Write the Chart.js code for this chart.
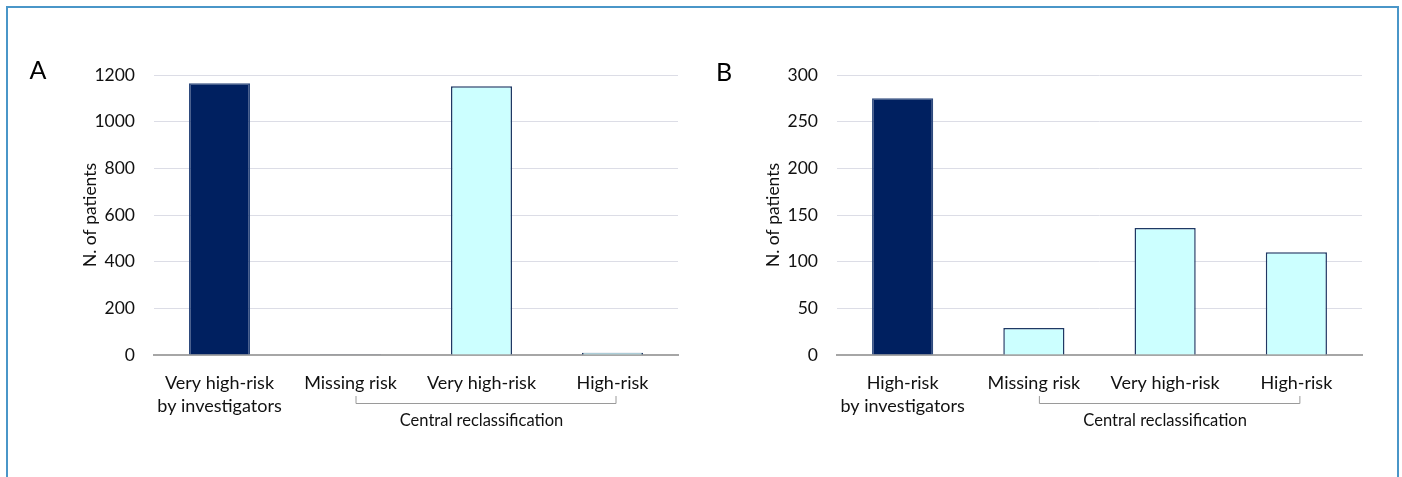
<!DOCTYPE html>
<html>
<head>
<meta charset="utf-8">
<script src="https://cdn.jsdelivr.net/npm/chart.js@4"></script>
<style>
  html, body { margin: 0; padding: 0; background: #ffffff; }
  #wrap { position: relative; width: 1402px; height: 477px; overflow: hidden; }
  #frame { position: absolute; left: 6px; top: 6px; width: 1389px; height: 500px;
           border-left: 2px solid #4A96C8; border-top: 2px solid #4A96C8; border-right: 2px solid #4A96C8; }
  canvas { position: absolute; left: 0; top: 0; }
</style>
</head>
<body>
<div id="wrap">
  <div id="frame"></div>
  <canvas id="chartA" width="1402" height="477"></canvas>
  <canvas id="chartB" width="1402" height="477"></canvas>
</div>
<script>
// Panel A: patients classified very high-risk by investigators
const categoriesA = [['Very high-risk', 'by investigators'], 'Missing risk', 'Very high-risk', 'High-risk'];
const valuesA = [1165, 3, 1152, 10];
const yMaxA = 1200;
const yStepA = 200;

// Panel B: patients classified high-risk by investigators
const categoriesB = [['High-risk', 'by investigators'], 'Missing risk', 'Very high-risk', 'High-risk'];
const valuesB = [275, 29, 136, 110];
const yMaxB = 300;
const yStepB = 50;

const groupLabel = 'Central reclassification';
const axisTitle = 'N. of patients';

const FONT = 'Lato';
const TEXT = '#111111';
const barFill = ['#002060', '#CCFFFF', '#CCFFFF', '#CCFFFF'];
const barEdge = ['#2E4A7D', '#1F3864', '#1F3864', '#1F3864'];

// Panel letter plus the bracket grouping the three reclassification bars
const annotations = {
  id: 'annotations',
  afterDatasetsDraw(chart, args, opts) {
    const ctx = chart.ctx;
    const x = chart.scales.x;
    const base = chart.chartArea.bottom;
    ctx.save();
    // panel letter
    ctx.fillStyle = '#000';
    ctx.font = '25px ' + FONT;
    ctx.textAlign = 'center';
    ctx.textBaseline = 'middle';
    ctx.fillText(opts.letter, opts.letterX, opts.letterY);
    // bracket under categories 1..3
    const x1 = x.getPixelForValue(1) + 5;
    const x2 = x.getPixelForValue(3) + 3;
    const yLine = base + 48;
    const yTop = base + 41;
    ctx.strokeStyle = '#9A9A9A';
    ctx.lineWidth = 1;
    ctx.beginPath();
    ctx.moveTo(x1 + 0.5, yTop);
    ctx.lineTo(x1 + 0.5, yLine + 0.5);
    ctx.lineTo(x2 + 0.5, yLine + 0.5);
    ctx.lineTo(x2 + 0.5, yTop);
    ctx.stroke();
    ctx.fillStyle = TEXT;
    ctx.font = '16.5px ' + FONT;
    ctx.fillText(groupLabel, x.getPixelForValue(2), base + 66);
    ctx.restore();
  }
};

function makeChart(id, cats, vals, yMax, yStep, padLeft, padRight, letter, letterX, letterY) {
  return new Chart(document.getElementById(id), {
    type: 'bar',
    data: {
      labels: cats,
      datasets: [{
        data: vals,
        backgroundColor: barFill,
        borderColor: barEdge,
        borderWidth: 1.5,
        categoryPercentage: 1,
        barPercentage: 0.466
      }]
    },
    options: {
      responsive: false,
      animation: false,
      events: [],
      layout: { padding: { left: padLeft, right: padRight, top: 75, bottom: 0 } },
      plugins: {
        legend: { display: false },
        tooltip: { enabled: false },
        annotations: { letter: letter, letterX: letterX, letterY: letterY }
      },
      scales: {
        x: {
          grid: { display: false },
          border: { display: true, color: '#A6A6A6', width: 2 },
          ticks: {
            color: TEXT,
            font: { family: FONT, size: 18, lineHeight: 1.25 },
            padding: 9,
            maxRotation: 0,
            autoSkip: false
          },
          afterFit(axis) { axis.height = 122; }
        },
        y: {
          min: 0,
          max: yMax,
          ticks: {
            stepSize: yStep,
            color: TEXT,
            font: { family: FONT, size: 17.5 },
            padding: 19,
            callback: (v) => String(v)
          },
          grid: { color: '#DCDDE6', lineWidth: 1, drawTicks: false },
          border: { display: false },
          title: {
            display: true,
            text: axisTitle,
            color: TEXT,
            font: { family: FONT, size: 17.5 },
            padding: { top: 9.5, bottom: 0 }
          },
          afterFit(axis) { axis.width = 84; }
        }
      }
    },
    plugins: [annotations]
  });
}

makeChart('chartA', categoriesA, valuesA, yMaxA, yStepA, 70, 724, 'A', 38, 71);
makeChart('chartB', categoriesB, valuesB, yMaxB, yStepB, 753, 40, 'B', 724, 73);
</script>
</body>
</html>
